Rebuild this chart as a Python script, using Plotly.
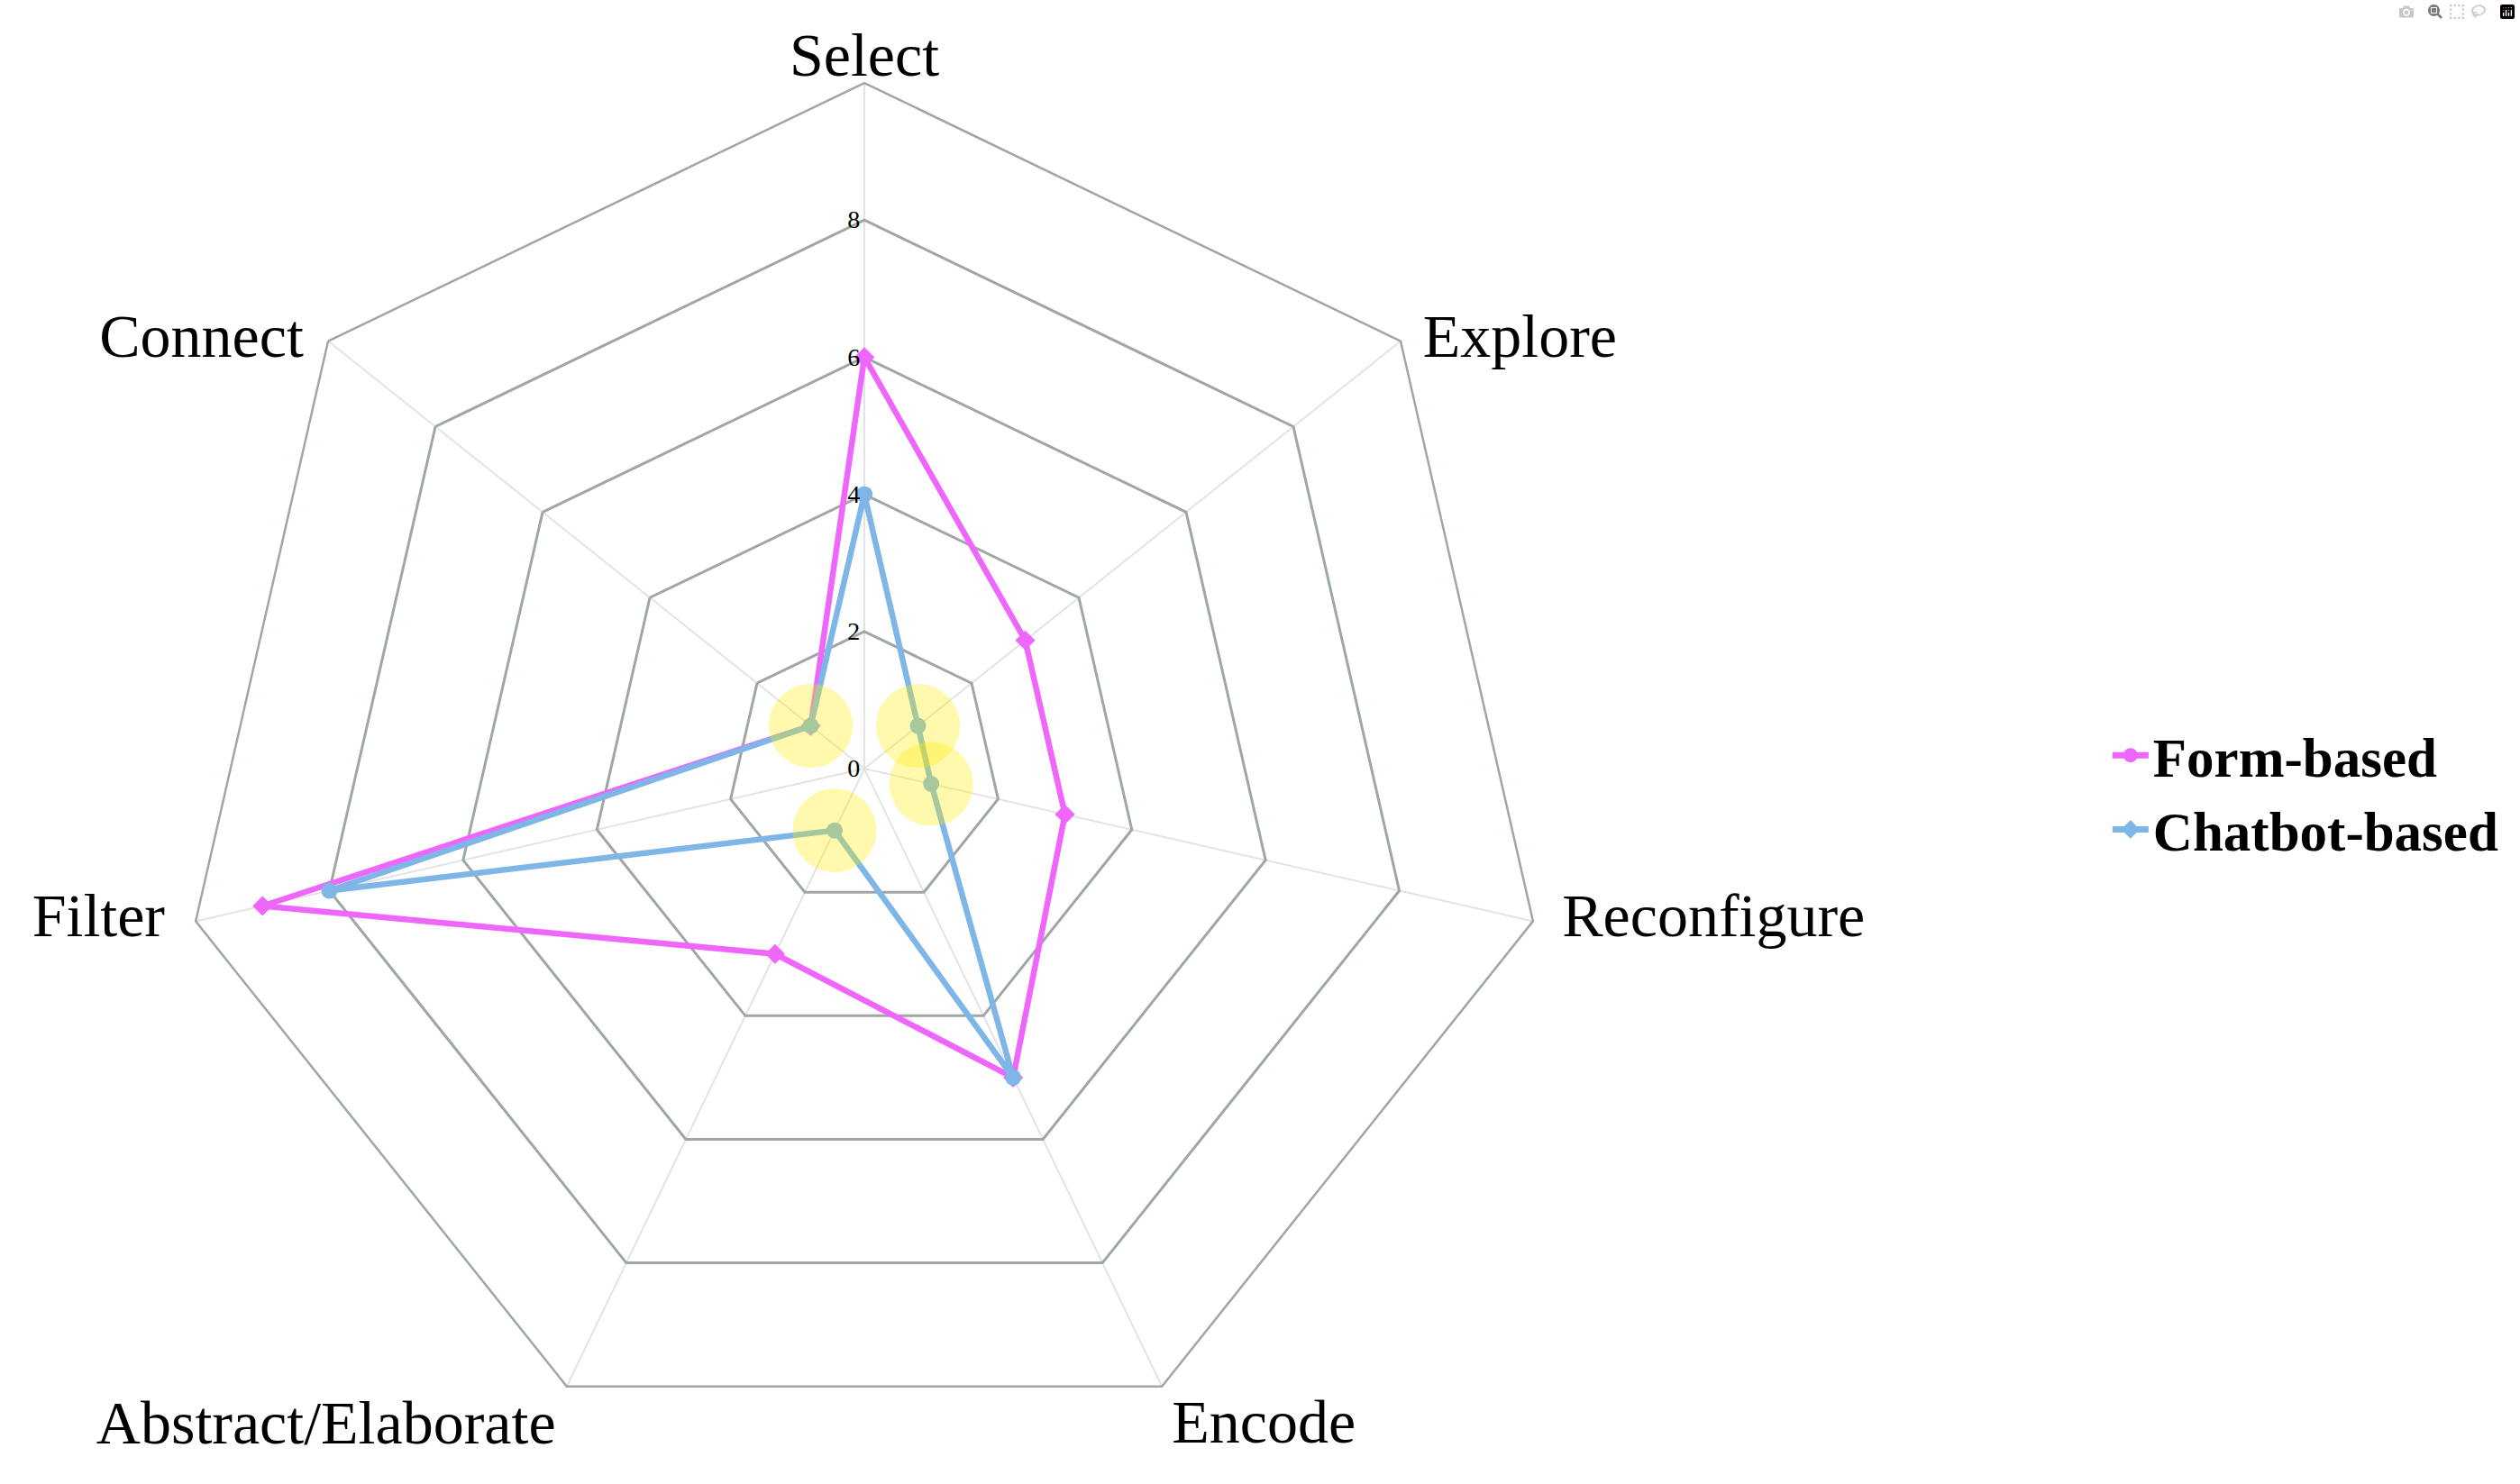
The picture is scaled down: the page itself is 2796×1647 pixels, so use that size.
import plotly.graph_objects as go

categories = ["Select", "Explore", "Reconfigure", "Encode", "Abstract/Elaborate", "Filter", "Connect"]
form_based = [6, 3, 3, 5, 3, 9, 1]
chatbot_based = [4, 1, 1, 5, 1, 8, 1]
highlight_cats = ["Connect", "Explore", "Reconfigure", "Abstract/Elaborate"]
highlight_vals = [1, 1, 1, 1]
radial_ticks = [0, 2, 4, 6, 8]

PINK = "#EE66FB"
BLUE = "#7EB6E8"
SERIF = "Liberation Serif, Times New Roman, serif"
R_MAX = 10
# label placement: radius on the outer ring, anchor side and spacing (invisible marker size)
LABEL_R = [9.88, R_MAX, R_MAX, R_MAX, R_MAX, R_MAX, R_MAX]
LABEL_POS = ["top center", "middle right", "middle right", "bottom right",
             "bottom left", "middle left", "middle left"]
LABEL_GAP = [0, 38, 50, 16, 18, 53, 42]

fig = go.Figure()

fig.add_trace(go.Scatterpolar(
    r=form_based + form_based[:1], theta=categories + categories[:1],
    mode="lines+markers", name="Form-based", showlegend=False,
    line=dict(color=PINK, width=6.5),
    marker=dict(symbol="diamond", size=17, color=PINK),
))
fig.add_trace(go.Scatterpolar(
    r=chatbot_based + chatbot_based[:1], theta=categories + categories[:1],
    mode="lines+markers", name="Chatbot-based", showlegend=False,
    line=dict(color=BLUE, width=6.5),
    marker=dict(symbol="circle", size=18, color=BLUE),
))
fig.add_trace(go.Scatterpolar(
    r=highlight_vals, theta=highlight_cats, mode="markers", showlegend=False,
    marker=dict(size=93, color="rgba(255,235,0,0.32)", line=dict(width=0)),
    hoverinfo="skip",
))
# category labels at the outer vertices
fig.add_trace(go.Scatterpolar(
    r=LABEL_R, theta=categories, text=categories,
    mode="markers+text", textposition=LABEL_POS, cliponaxis=False, showlegend=False,
    marker=dict(size=LABEL_GAP, color="rgba(0,0,0,0)", line=dict(width=0)),
    textfont=dict(size=68, family=SERIF, color="black"), hoverinfo="skip",
))
# legend entries
fig.add_trace(go.Scatterpolar(
    r=[None], theta=[categories[0]], mode="lines+markers", name="Form-based",
    line=dict(color=PINK, width=7), marker=dict(symbol="circle", size=24, color=PINK),
))
fig.add_trace(go.Scatterpolar(
    r=[None], theta=[categories[0]], mode="lines+markers", name="Chatbot-based",
    line=dict(color=BLUE, width=7), marker=dict(symbol="diamond", size=24, color=BLUE),
))

fig.update_layout(
    width=2796, height=1647,
    margin=dict(l=0, r=0, t=0, b=0),
    paper_bgcolor="white", plot_bgcolor="white",
    font=dict(family=SERIF, color="black"),
    polar=dict(
        domain=dict(x=[0.0708, 0.6152], y=[0.020, 0.9441]),
        gridshape="linear",
        bgcolor="white",
        radialaxis=dict(
            range=[0, R_MAX], tickvals=radial_ticks, angle=90, tickangle=90,
            side="counterclockwise",
            showline=False, gridcolor="#a0a6a6", gridwidth=2.5,
            tickfont=dict(size=28, family=SERIF, color="black"),
            ticks="",
        ),
        angularaxis=dict(
            direction="clockwise", rotation=90,
            gridcolor="#e3e3e3", gridwidth=2,
            linecolor="#a0a6a6", linewidth=2.5, showline=True,
            showticklabels=False, ticks="",
        ),
    ),
    legend=dict(
        x=0.8365, y=0.466, xanchor="left", yanchor="middle",
        font=dict(size=61, family=SERIF, color="black", weight="bold"),
        itemwidth=40, tracegroupgap=0,
        bgcolor="rgba(0,0,0,0)",
    ),
)

fig.write_html("out.html", post_script="document.body.style.margin='0';")
